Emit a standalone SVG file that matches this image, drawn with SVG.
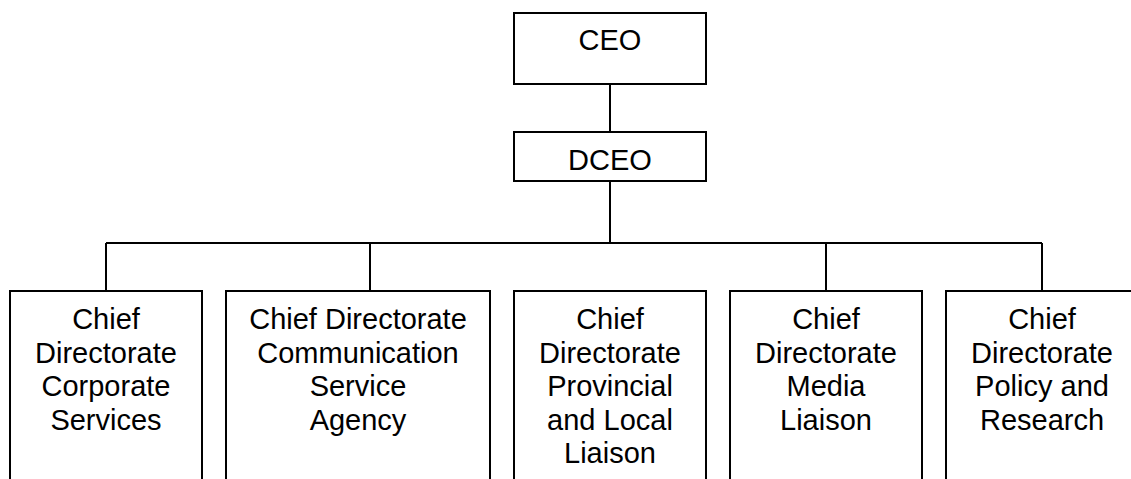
<svg xmlns="http://www.w3.org/2000/svg" width="1131" height="479" viewBox="0 0 1131 479">
<style>
.box{fill:#fff;stroke:#000;stroke-width:2}
.ln{fill:none;stroke:#000;stroke-width:2}
text{font-family:"Liberation Sans",Arial,sans-serif;font-size:29px;fill:#000;text-anchor:middle}
</style>
<rect width="1131" height="479" fill="#fff"/>
<g id="connectors">
<path class="ln" d="M610 84V132M610 181V243M106 243H1042M106 243V291M370 243V291M826 243V291M1042 243V291"/>
</g>
<g id="ceo">
<rect class="box" x="514" y="13" width="192" height="71"/>
<text x="610" y="49.5">CEO</text>
</g>
<g id="dceo">
<rect class="box" x="514" y="132" width="192" height="49"/>
<text x="610" y="170">DCEO</text>
</g>
<g id="corporate">
<rect class="box" x="10" y="291" width="192" height="200"/>
<text x="106" y="329">Chief</text>
<text x="106" y="362.5">Directorate</text>
<text x="106" y="396">Corporate</text>
<text x="106" y="429.5">Services</text>
</g>
<g id="communication">
<rect class="box" x="226" y="291" width="264" height="200"/>
<text x="358" y="329">Chief Directorate</text>
<text x="358" y="362.5">Communication</text>
<text x="358" y="396">Service</text>
<text x="358" y="429.5">Agency</text>
</g>
<g id="provincial">
<rect class="box" x="514" y="291" width="192" height="200"/>
<text x="610" y="329">Chief</text>
<text x="610" y="362.5">Directorate</text>
<text x="610" y="396">Provincial</text>
<text x="610" y="429.5">and Local</text>
<text x="610" y="463">Liaison</text>
</g>
<g id="media">
<rect class="box" x="730" y="291" width="192" height="200"/>
<text x="826" y="329">Chief</text>
<text x="826" y="362.5">Directorate</text>
<text x="826" y="396">Media</text>
<text x="826" y="429.5">Liaison</text>
</g>
<g id="policy">
<rect class="box" x="946" y="291" width="192" height="200"/>
<text x="1042" y="329">Chief</text>
<text x="1042" y="362.5">Directorate</text>
<text x="1042" y="396">Policy and</text>
<text x="1042" y="429.5">Research</text>
</g>
</svg>
